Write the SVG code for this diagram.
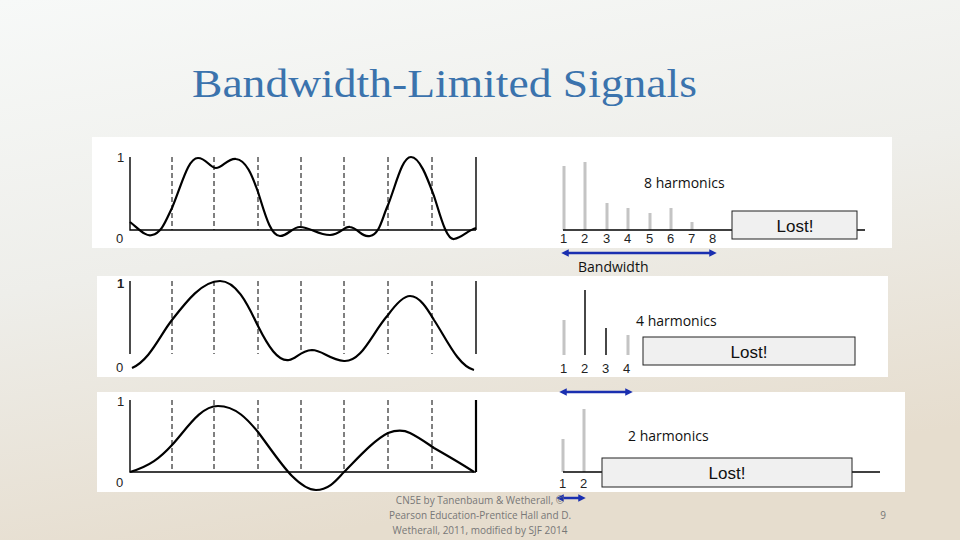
<svg xmlns="http://www.w3.org/2000/svg" width="960" height="540" viewBox="0 0 960 540">
<defs>
<linearGradient id="bg" x1="0" y1="0" x2="0.3" y2="1">
<stop offset="0" stop-color="#f7f9f8"/><stop offset="0.5" stop-color="#eeeeea"/><stop offset="1" stop-color="#e6ddce"/>
</linearGradient>
<marker id="ah" viewBox="0 0 10 10" refX="5" refY="5" markerWidth="3" markerHeight="3" orient="auto-start-reverse"><path d="M0,0L10,5L0,10z" fill="#1a2fb0"/></marker>
<style>
.ax{stroke:#000;stroke-width:1.4;fill:none}
.ds{stroke:#000;stroke-width:1;stroke-dasharray:5,3}
.cv{stroke:#000;stroke-width:2.2;fill:none;stroke-linejoin:round}
.bar{stroke:#c4c4c4;stroke-width:3}
.t{font-family:"Liberation Sans",Arial,sans-serif;font-size:13px;fill:#222}
.h{font-family:"Open Sans","Noto Sans",sans-serif;font-size:14px;fill:#111}
.lost{fill:#f0f0f0;stroke:#222;stroke-width:1}
.lt{font-family:"Liberation Sans",Arial,sans-serif;font-size:17px;fill:#111;text-anchor:middle}
.arr{stroke:#1a2fb0;stroke-width:2.5;marker-start:url(#ah);marker-end:url(#ah)}
.ft{font-family:"Open Sans","Noto Sans",sans-serif;font-size:10px;fill:#777;text-anchor:middle}
</style>
</defs>
<rect width="960" height="540" fill="url(#bg)"/>
<text x="192" y="97" font-family="Liberation Serif,serif" font-size="40" fill="#3b73ad" textLength="505" lengthAdjust="spacingAndGlyphs">Bandwidth-Limited Signals</text>

<g id="panel1">
<rect x="92" y="137" width="800" height="111" fill="#fff"/>
<text class="t" x="117" y="162">1</text><text class="t" x="116" y="243">0</text>
<path class="ax" d="M130,157V230H476M476,157V230"/>
<path class="ds" d="M172,157V230M214,157V230M258,157V230M301,157V230M344,157V230M388,157V230M432,157V230"/>
<path class="cv" d="M130,222C140,230 146,237 152,235C162,233 166,220 172,208C182,184 188,158 198,158C206,158 210,168 216,168C222,168 228,158 236,159C246,160 252,175 258,192C264,210 270,236 280,236C288,236 292,227 300,227C310,227 318,235 330,235C340,235 344,226 350,227C358,228 362,238 370,236C380,234 382,218 388,205C396,185 402,157 411,157C420,157 428,180 434,196C440,214 446,240 454,239C462,238 468,230 476,228"/>
<path class="bar" d="M564,230V166M585,230V162M607,230V203M628,230V208M650,230V213M671,230V208M692,230V222"/>
<path class="ax" d="M563,230H865"/>
<text class="t" x="560" y="243" fill="#401030">1</text><text class="t" x="581" y="243">2</text><text class="t" x="603" y="243">3</text><text class="t" x="624" y="243">4</text><text class="t" x="646" y="243">5</text><text class="t" x="667" y="243">6</text><text class="t" x="688" y="243">7</text><text class="t" x="709" y="243">8</text>
<rect class="lost" x="732" y="211" width="125" height="28"/><text class="lt" x="795" y="232">Lost!</text>
<text class="h" x="644" y="188">8 harmonics</text>
</g>

<g id="panel2">
<rect x="97" y="276" width="791" height="101" fill="#fff"/>
<text class="t" x="117" y="288" font-weight="bold" fill="#223">1</text><text class="t" x="116" y="372">0</text>
<path class="ax" d="M130,281V354M476,281V354"/>
<path class="ds" d="M172,281V354M214,281V354M258,281V354M301,281V354M344,281V354M388,281V354M432,281V354"/>
<path class="cv" d="M132,368C150,360 160,335 172,320C186,302 202,281 220,281C238,281 250,310 258,326C268,346 278,362 289,360C296,359 300,351 312,350C322,350 330,360 344,361C362,362 372,333 388,315C396,304 404,296 410,296C420,296 428,310 434,320C446,338 458,366 474,370"/>
<path class="bar" d="M564,355V320M628,355V335"/>
<path d="M585,355V290" stroke="#333" stroke-width="1.8"/><path d="M606,355V328" stroke="#333" stroke-width="1.8"/>
<text class="t" x="560" y="373">1</text><text class="t" x="581" y="373">2</text><text class="t" x="602" y="373">3</text><text class="t" x="623" y="373">4</text>
<rect class="lost" x="643" y="337" width="212" height="28"/><text class="lt" x="749" y="358">Lost!</text>
<text class="h" x="636" y="326">4 harmonics</text>
</g>

<g id="panel3">
<rect x="97" y="392" width="808" height="100" fill="#fff"/>
<text class="t" x="117" y="406">1</text><text class="t" x="116" y="487">0</text>
<path class="ax" d="M130,400V472H476"/><path d="M476,400V472" stroke="#000" stroke-width="2.2"/>
<path class="ds" d="M172,400V472M214,400V472M258,400V472M301,400V472M344,400V472M388,400V472M432,400V472"/>
<path class="cv" d="M130,472C150,466 160,458 172,445C186,430 200,406 218,406C236,406 248,420 258,432C270,448 282,466 292,476C300,484 308,490 316,490C330,490 338,478 344,472C358,458 374,440 388,433C396,430 404,430 410,433C420,438 428,444 434,448C448,456 462,464 474,472"/>
<path class="bar" d="M563,472V439M584,472V409"/>
<path class="ax" d="M563,472H880"/>
<text class="t" x="559" y="488">1</text><text class="t" x="580" y="488">2</text>
<rect class="lost" x="602" y="458" width="250" height="29"/><text class="lt" x="727" y="479">Lost!</text>
<text class="h" x="628" y="441">2 harmonics</text>
</g>

<g id="connectors">
<line class="arr" x1="565" y1="253" x2="713" y2="253"/>
<text class="h" x="578" y="272">Bandwidth</text>
<line class="arr" x1="563" y1="392" x2="629" y2="392"/>
<line class="arr" x1="560" y1="498" x2="582" y2="498"/>
</g>

<text class="ft" x="480" y="504">CN5E by Tanenbaum &amp; Wetherall, ©</text>
<text class="ft" x="480" y="519">Pearson Education-Prentice Hall and D.</text>
<text class="ft" x="480" y="534">Wetherall, 2011, modified by SJF 2014</text>
<text class="ft" x="883" y="519">9</text>
</svg>
